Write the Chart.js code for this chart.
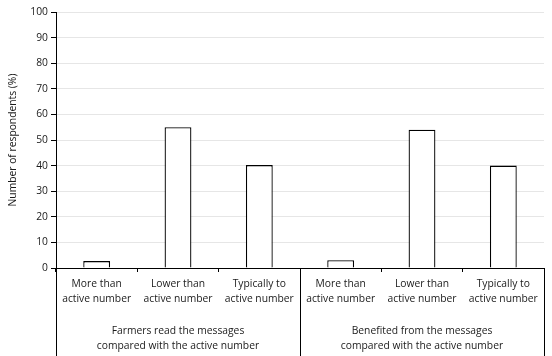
<!DOCTYPE html>
<html>
<head>
<meta charset="utf-8">
<script src="https://cdn.jsdelivr.net/npm/chart.js@4/dist/chart.umd.min.js"></script>
<style>
html,body{margin:0;padding:0;background:#fff;}
#wrap{width:552px;height:356px;position:relative;}
</style>
</head>
<body>
<div id="wrap"><canvas id="c" width="552" height="356"></canvas></div>
<script>
const categories = [
  ["More than", "active number"],
  ["Lower than", "active number"],
  ["Typically to", "active number"],
  ["More than", "active number"],
  ["Lower than", "active number"],
  ["Typically to", "active number"]
];
const respondents = [2.7, 55, 40.2, 3, 54, 40];
const groupLabels = [
  ["Farmers read the messages", "compared with the active number"],
  ["Benefited from the messages", "compared with the active number"]
];
const groupSizes = [3, 3];
const yTicks = [0, 10, 20, 30, 40, 50, 60, 70, 80, 90, 100];

const FONT = "'Segoe UI', 'Open Sans', sans-serif";
const FS = 10.3;
const TXT = '#1a1a1a';

const groupPlugin = {
  id: 'groups',
  afterDraw(chart) {
    const ctx = chart.ctx;
    const xs = chart.scales.x;
    const area = chart.chartArea;
    const H = chart.height;
    const bounds = [xs.left];
    let idx = 0;
    groupSizes.forEach(n => {
      idx += n;
      if (idx < categories.length) {
        bounds.push((xs.getPixelForValue(idx - 1) + xs.getPixelForValue(idx)) / 2);
      } else {
        bounds.push(xs.right);
      }
    });
    ctx.save();
    ctx.strokeStyle = '#000';
    ctx.lineWidth = 1;
    bounds.forEach(b => {
      const x = Math.round(b) + 0.5;
      ctx.beginPath();
      ctx.moveTo(x, area.bottom);
      ctx.lineTo(x, H);
      ctx.stroke();
    });
    ctx.fillStyle = TXT;
    ctx.font = FS + 'px ' + FONT;
    ctx.textAlign = 'center';
    ctx.textBaseline = 'middle';
    groupLabels.forEach((lines, g) => {
      const cx = (bounds[g] + bounds[g + 1]) / 2;
      lines.forEach((t, k) => {
        ctx.fillText(t, cx, 331 + k * 15.5);
      });
    });
    ctx.restore();
  }
};

new Chart(document.getElementById('c'), {
  type: 'bar',
  data: {
    labels: categories,
    datasets: [{
      data: respondents,
      backgroundColor: '#ffffff',
      borderColor: '#000000',
      borderWidth: 1.3,
      barPercentage: 0.33,
      categoryPercentage: 1.0
    }]
  },
  options: {
    responsive: false,
    animation: false,
    devicePixelRatio: 1,
    layout: { padding: { top: 12, right: 8, left: 0, bottom: 0 } },
    plugins: { legend: { display: false }, tooltip: { enabled: false } },
    scales: {
      x: {
        offset: true,
        grid: { display: true, offset: true, drawOnChartArea: false, tickLength: 4, color: '#000', tickColor: '#000' },
        border: { color: '#000', width: 1 },
        ticks: { color: TXT, font: { family: FONT, size: FS, lineHeight: 1.4 }, padding: 5, maxRotation: 0, autoSkip: false },
        afterFit(s) { s.height = 88; }
      },
      y: {
        min: 0, max: 100,
        afterBuildTicks(s) { s.ticks = yTicks.map(v => ({ value: v })); },
        grid: { color: '#e6e6e6', tickColor: '#000', tickLength: 5, lineWidth: 1 },
        border: { color: '#000', width: 1 },
        ticks: { color: TXT, font: { family: FONT, size: FS }, padding: 3 },
        title: { display: true, text: 'Number of respondents (%)', color: TXT, font: { family: FONT, size: FS }, padding: { top: 7, bottom: 0 } },
        afterFit(s) { s.width = 56; }
      }
    }
  },
  plugins: [groupPlugin]
});
</script>
</body>
</html>
